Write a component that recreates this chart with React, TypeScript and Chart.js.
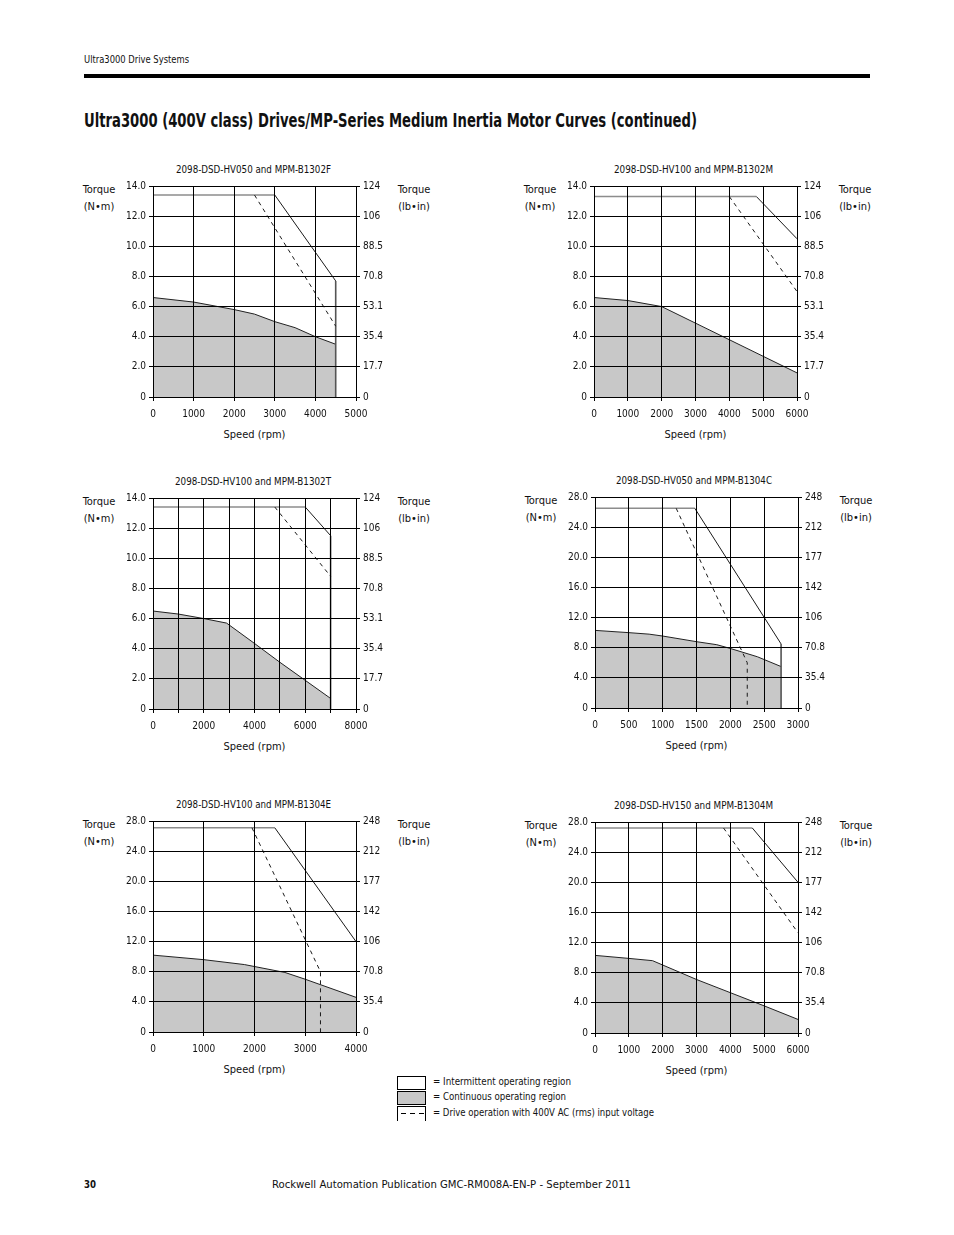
import React, { useEffect, useLayoutEffect, useRef } from "react";
import { Chart, registerables } from "chart.js";

Chart.register(...registerables);

const FONT = "'Liberation Sans Narrow', 'DejaVu Sans Condensed', 'Arial Narrow', sans-serif";
const GRAY = "#c8c8c8";

// ---- data (speed in rpm, torque in N·m) ----
const rightLabels14 = ["0", "17.7", "35.4", "53.1", "70.8", "88.5", "106", "124"];
const rightLabels28 = ["0", "35.4", "70.8", "106", "142", "177", "212", "248"];

const c1Title = "2098-DSD-HV050 and MPM-B1302F";
const c1ContX = [0, 1000, 2000, 2500, 3000, 3500, 4000, 4500];
const c1ContY = [6.6, 6.3, 5.8, 5.5, 5.0, 4.6, 4.0, 3.5];
const c1IntX = [0, 3000, 4500, 4500];
const c1IntY = [13.4, 13.4, 7.7, 0];
const c1DashX = [2500, 4500];
const c1DashY = [13.4, 4.7];

const c2Title = "2098-DSD-HV100 and MPM-B1302M";
const c2ContX = [0, 1000, 2000, 3000, 4000, 5000, 6000];
const c2ContY = [6.6, 6.4, 6.0, 4.9, 3.8, 2.7, 1.6];
const c2IntX = [0, 4800, 6000];
const c2IntY = [13.3, 13.3, 10.5];
const c2DashX = [4000, 6000];
const c2DashY = [13.3, 7.0];

const c3Title = "2098-DSD-HV100 and MPM-B1302T";
const c3ContX = [0, 1000, 2000, 2900, 4000, 5000, 6000, 7000];
const c3ContY = [6.5, 6.3, 6.0, 5.7, 4.35, 3.1, 1.9, 0.7];
const c3IntX = [0, 6000, 7000, 7000];
const c3IntY = [13.4, 13.4, 11.5, 0];
const c3DashX = [4800, 7000];
const c3DashY = [13.4, 8.8];

const c4Title = "2098-DSD-HV050 and MPM-B1304C";
const c4ContX = [0, 500, 800, 1000, 1500, 1800, 2000, 2400, 2750];
const c4ContY = [10.3, 10.0, 9.8, 9.55, 8.8, 8.4, 7.9, 6.8, 5.5];
const c4IntX = [0, 1475, 2750, 2750];
const c4IntY = [26.5, 26.5, 8.5, 0];
const c4DashX = [1200, 2250, 2250];
const c4DashY = [26.5, 6.0, 0];

const c5Title = "2098-DSD-HV100 and MPM-B1304E";
const c5ContX = [0, 1000, 1800, 2600, 3000, 4000];
const c5ContY = [10.2, 9.6, 8.95, 7.9, 7.0, 4.6];
const c5IntX = [0, 2400, 4000];
const c5IntY = [27.1, 27.1, 12.0];
const c5DashX = [1950, 3300, 3300];
const c5DashY = [27.1, 8.0, 0];

const c6Title = "2098-DSD-HV150 and MPM-B1304M";
const c6ContX = [0, 1000, 1700, 3000, 4000, 5000, 6000];
const c6ContY = [10.3, 9.9, 9.6, 7.1, 5.35, 3.6, 1.8];
const c6IntX = [0, 4650, 6000];
const c6IntY = [27.2, 27.2, 20.0];
const c6DashX = [3800, 6000];
const c6DashY = [27.2, 13.3];

type Spec = {
  title: string;
  contX: number[]; contY: number[];
  intX: number[]; intY: number[];
  dashX: number[]; dashY: number[];
  xMax: number; xStep: number; xLabelStep: number;
  yMax: number; yStep: number; right: string[];
  L: number; T: number; titleL: number; titleW: number;
};

const W = 203;
const H = 211;

const specs: Spec[] = [
  { title: c1Title, contX: c1ContX, contY: c1ContY, intX: c1IntX, intY: c1IntY, dashX: c1DashX, dashY: c1DashY,
    xMax: 5000, xStep: 1000, xLabelStep: 1000, yMax: 14, yStep: 2, right: rightLabels14, L: 153, T: 186, titleL: 176, titleW: 155 },
  { title: c2Title, contX: c2ContX, contY: c2ContY, intX: c2IntX, intY: c2IntY, dashX: c2DashX, dashY: c2DashY,
    xMax: 6000, xStep: 1000, xLabelStep: 1000, yMax: 14, yStep: 2, right: rightLabels14, L: 594, T: 186, titleL: 614, titleW: 159 },
  { title: c3Title, contX: c3ContX, contY: c3ContY, intX: c3IntX, intY: c3IntY, dashX: c3DashX, dashY: c3DashY,
    xMax: 8000, xStep: 1000, xLabelStep: 2000, yMax: 14, yStep: 2, right: rightLabels14, L: 153, T: 498, titleL: 175, titleW: 156 },
  { title: c4Title, contX: c4ContX, contY: c4ContY, intX: c4IntX, intY: c4IntY, dashX: c4DashX, dashY: c4DashY,
    xMax: 3000, xStep: 500, xLabelStep: 500, yMax: 28, yStep: 4, right: rightLabels28, L: 595, T: 497, titleL: 616, titleW: 156 },
  { title: c5Title, contX: c5ContX, contY: c5ContY, intX: c5IntX, intY: c5IntY, dashX: c5DashX, dashY: c5DashY,
    xMax: 4000, xStep: 1000, xLabelStep: 1000, yMax: 28, yStep: 4, right: rightLabels28, L: 153, T: 821, titleL: 176, titleW: 155 },
  { title: c6Title, contX: c6ContX, contY: c6ContY, intX: c6IntX, intY: c6IntY, dashX: c6DashX, dashY: c6DashY,
    xMax: 6000, xStep: 1000, xLabelStep: 1000, yMax: 28, yStep: 4, right: rightLabels28, L: 595, T: 822, titleL: 614, titleW: 159 },
];

const pts = (xs: number[], ys: number[]) => xs.map((x, i) => ({ x, y: ys[i] }));

function FitText(props: { x: number; y: number; w: number; text: string; size: number; bold?: boolean }) {
  const ref = useRef<HTMLSpanElement>(null);
  useLayoutEffect(() => {
    const el = ref.current;
    if (!el) return;
    const fit = () => {
      el.style.transform = "none";
      const nat = el.getBoundingClientRect().width;
      if (nat > 0) el.style.transform = `scaleX(${props.w / nat})`;
    };
    fit();
    if ((document as any).fonts && (document as any).fonts.ready) (document as any).fonts.ready.then(fit);
  }, [props.text, props.w]);
  return (
    <span
      ref={ref}
      style={{
        position: "absolute",
        left: props.x,
        top: props.y - props.size * 0.62,
        fontSize: props.size,
        lineHeight: `${props.size * 1.2}px`,
        fontWeight: props.bold ? 700 : 400,
        whiteSpace: "nowrap",
        transformOrigin: "0 0",
        color: "#111",
      }}
    >
      {props.text}
    </span>
  );
}

function CText(props: { cx: number; y: number; text: string; size?: number }) {
  const size = props.size ?? 11;
  return (
    <div
      style={{
        position: "absolute",
        left: props.cx - 60,
        width: 120,
        top: props.y - size * 0.62,
        fontSize: size,
        lineHeight: `${size * 1.2}px`,
        textAlign: "center",
        whiteSpace: "nowrap",
        color: "#111",
      }}
    >
      {props.text}
    </div>
  );
}

function MotorChart({ spec }: { spec: Spec }) {
  const ref = useRef<HTMLCanvasElement>(null);
  useEffect(() => {
    const canvas = ref.current!;
    const tickFont = { family: FONT, size: 10 };
    const segColor = (ctx: any) => {
      if (ctx.p0.parsed.y === ctx.p1.parsed.y) return "#8c8c8c";
      if (ctx.p0.parsed.x === ctx.p1.parsed.x) return "#555";
      return "#1a1a1a";
    };
    const segWidth = (ctx: any) => (ctx.p0.parsed.y === ctx.p1.parsed.y || ctx.p0.parsed.x === ctx.p1.parsed.x ? 1.6 : 1);
    const chart = new Chart(canvas, {
      type: "line",
      data: {
        datasets: [
          {
            label: "Continuous",
            data: pts(spec.contX, spec.contY),
            fill: "origin",
            backgroundColor: GRAY,
            borderColor: "#222",
            borderWidth: 1,
            pointRadius: 0,
            tension: 0,
            order: 3,
          },
          {
            label: "Intermittent",
            data: pts(spec.intX, spec.intY),
            fill: false,
            borderColor: "#1a1a1a",
            borderWidth: 1,
            pointRadius: 0,
            tension: 0,
            order: 2,
            segment: { borderColor: segColor, borderWidth: segWidth },
          },
          {
            label: "400V",
            data: pts(spec.dashX, spec.dashY),
            fill: false,
            borderColor: "#1a1a1a",
            borderWidth: 1,
            borderDash: [4, 4],
            pointRadius: 0,
            tension: 0,
            order: 1,
          },
        ],
      } as any,
      options: {
        animation: false,
        responsive: false,
        events: [],
        layout: { padding: { top: 10, left: 0, right: 0, bottom: 0 } },
        plugins: { legend: { display: false }, tooltip: { enabled: false }, title: { display: false } },
        scales: {
          x: {
            type: "linear",
            min: 0,
            max: spec.xMax,
            ticks: {
              stepSize: spec.xStep,
              autoSkip: false,
              maxRotation: 0,
              font: tickFont,
              color: "#111",
              padding: 7,
              callback: (v: any) => (Number(v) % spec.xLabelStep === 0 ? String(v) : ""),
            },
            grid: { z: 1, color: "#000", lineWidth: 1, tickLength: 4, tickColor: "#000" },
            border: { z: 2, color: "#000", width: 1 },
            afterFit: (s: any) => { s.height = 30; },
          },
          y: {
            position: "left",
            min: 0,
            max: spec.yMax,
            ticks: {
              stepSize: spec.yStep,
              font: tickFont,
              color: "#111",
              padding: 3,
              callback: (v: any) => (Number(v) === 0 ? "0" : Number(v).toFixed(1)),
            },
            grid: { z: 1, color: "#000", lineWidth: 1, tickLength: 4, tickColor: "#000" },
            border: { z: 2, color: "#000", width: 1 },
            afterFit: (s: any) => { s.width = 55; },
          },
          y2: {
            position: "right",
            min: 0,
            max: spec.yMax,
            ticks: {
              stepSize: spec.yStep,
              font: tickFont,
              color: "#111",
              padding: 3,
              callback: (v: any) => spec.right[Math.round(Number(v) / spec.yStep)] ?? "",
            },
            grid: { z: 1, drawOnChartArea: false, color: "#000", lineWidth: 1, tickLength: 4, tickColor: "#000" },
            border: { z: 2, color: "#000", width: 1 },
            afterFit: (s: any) => { s.width = 55; },
          },
        },
      } as any,
    });
    const a = chart.chartArea;
    canvas.style.left = `${spec.L - a.left}px`;
    canvas.style.top = `${spec.T - a.top}px`;
    return () => chart.destroy();
  }, [spec]);
  return (
    <canvas
      ref={ref}
      width={55 + W + 55}
      height={10 + H + 30}
      style={{ position: "absolute", left: spec.L - 55, top: spec.T - 10 }}
    />
  );
}

function ChartBlock({ spec }: { spec: Spec }) {
  const leftCx = spec.L - 54;
  const rightCx = spec.L + W + 58;
  return (
    <>
      <FitText x={spec.titleL} y={spec.T - 16} w={spec.titleW} text={spec.title} size={11} />
      <CText cx={leftCx} y={spec.T + 4} text="Torque" />
      <CText cx={leftCx} y={spec.T + 21} text="(N•m)" />
      <CText cx={rightCx} y={spec.T + 4} text="Torque" />
      <CText cx={rightCx} y={spec.T + 21} text="(lb•in)" />
      <CText cx={spec.L + W / 2} y={spec.T + H + 38} text="Speed (rpm)" />
      <MotorChart spec={spec} />
    </>
  );
}

export default function App() {
  return (
    <div
      style={{
        position: "absolute",
        left: 0,
        top: 0,
        width: 954,
        height: 1235,
        overflow: "hidden",
        background: "#fff",
        fontFamily: FONT,
        color: "#111",
      }}
    >
      <FitText x={84} y={60} w={105} text="Ultra3000 Drive Systems" size={10.5} />
      <div style={{ position: "absolute", left: 84, top: 74, width: 786, height: 4, background: "#000" }} />
      <FitText x={84} y={120} w={613} text="Ultra3000 (400V class) Drives/MP-Series Medium Inertia Motor Curves (continued)" size={20} bold />

      {specs.map((s, i) => (
        <ChartBlock key={i} spec={s} />
      ))}

      {/* legend */}
      <div style={{ position: "absolute", left: 397, top: 1076, width: 27, height: 12, border: "1px solid #000", background: "#fff" }} />
      <div style={{ position: "absolute", left: 397, top: 1091, width: 27, height: 12, border: "1px solid #000", background: GRAY }} />
      <div style={{ position: "absolute", left: 397, top: 1106, width: 27, height: 14, borderLeft: "1px solid #000", borderRight: "1px solid #000", borderTop: "1px solid #000" }}>
        <div
          style={{
            position: "absolute",
            left: 3,
            right: 1,
            top: 6,
            height: 1,
            backgroundImage: "repeating-linear-gradient(to right, #000 0px, #000 5px, transparent 5px, transparent 9px)",
          }}
        />
      </div>
      <FitText x={433} y={1082} w={138} text="= Intermittent operating region" size={11} />
      <FitText x={433} y={1097} w={133} text="= Continuous operating region" size={11} />
      <FitText x={433} y={1113} w={221} text="= Drive operation with 400V AC (rms) input voltage" size={11} />

      {/* footer */}
      <FitText x={84} y={1185} w={12} text="30" size={11} bold />
      <FitText x={272} y={1185} w={359} text="Rockwell Automation Publication GMC-RM008A-EN-P - September 2011" size={11} />
    </div>
  );
}
